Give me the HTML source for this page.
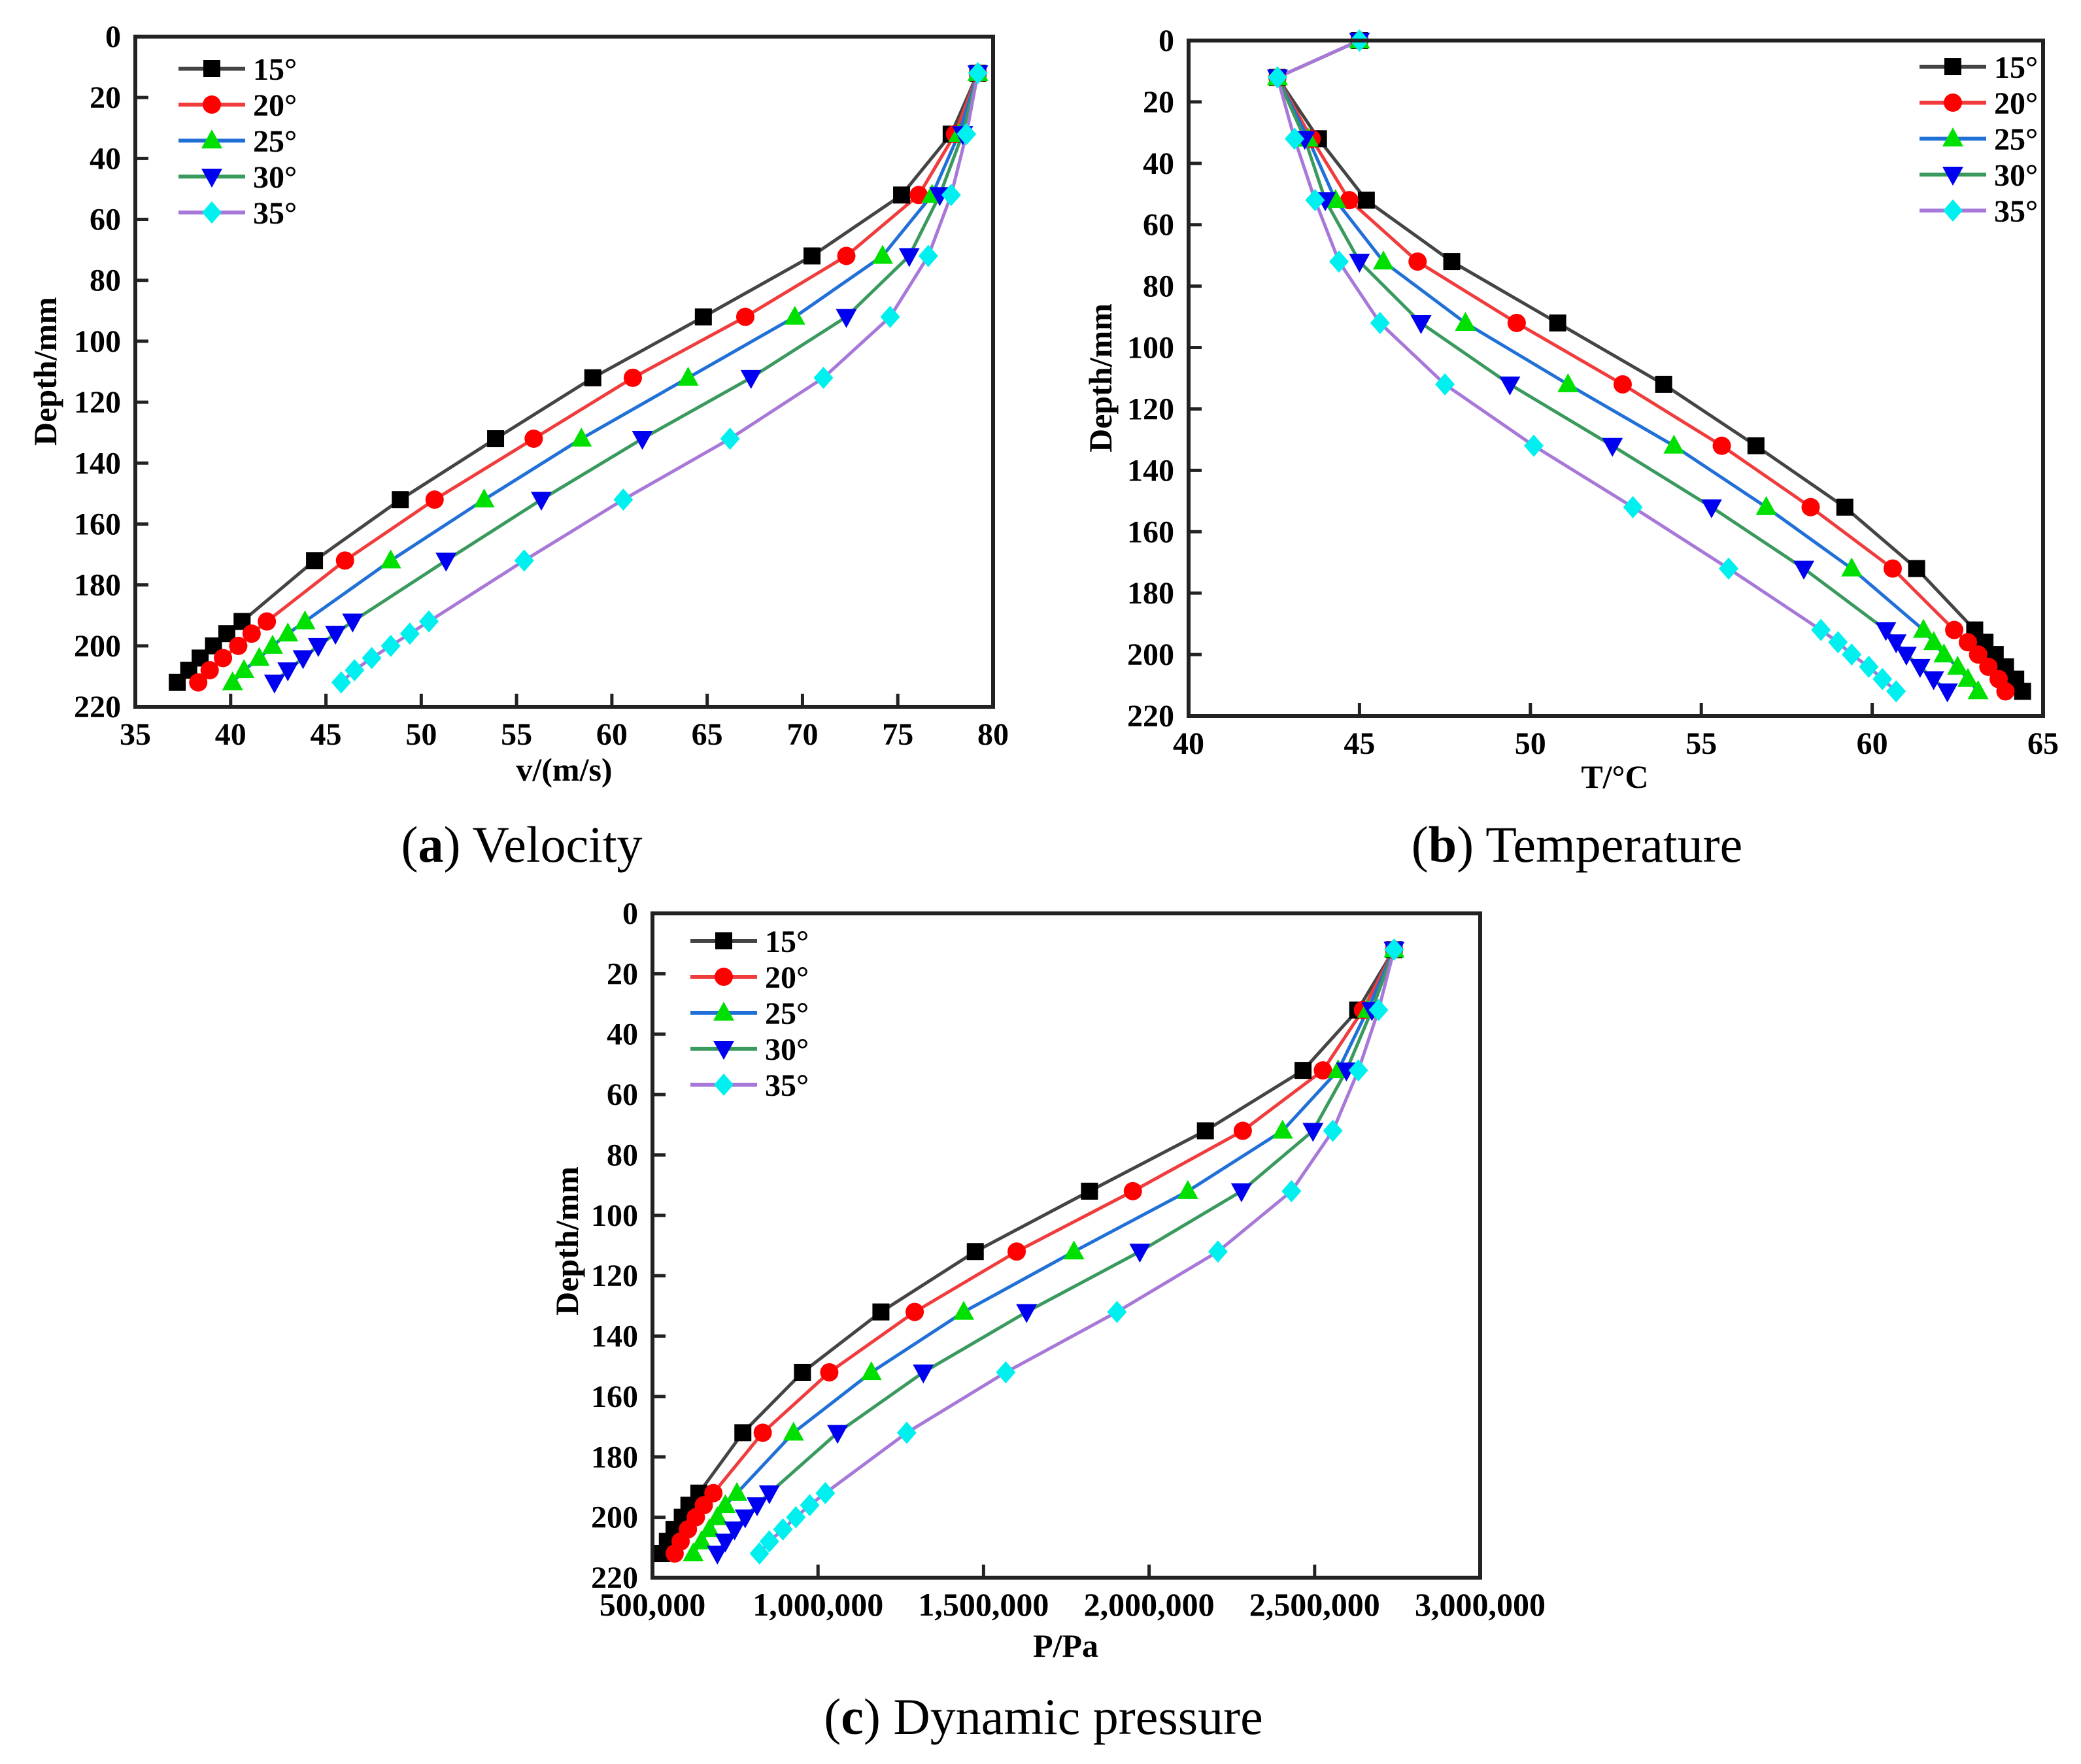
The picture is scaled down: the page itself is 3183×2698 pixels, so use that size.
<!DOCTYPE html>
<html><head><meta charset="utf-8"><style>
html,body{margin:0;padding:0;background:#fff;}
svg{display:block;font-family:"Liberation Serif",serif;}
</style></head>
<body>
<svg id="fig" width="3183" height="2698" viewBox="0 0 3183 2698" xmlns="http://www.w3.org/2000/svg"></svg>
<script>
const seriesNames = ["15°","20°","25°","30°","35°"];
const depthsA = [12,32,52,72,92,112,132,152,172,192,196,200,204,208,212];
const depthsB = [0,12,32,52,72,92,112,132,152,172,192,196,200,204,208,212];
const velocity15 = [79.2,77.8,75.2,70.5,64.8,59.0,53.9,48.9,44.4,40.6,39.8,39.1,38.4,37.8,37.2];
const velocity20 = [79.2,78.0,76.1,72.3,67.0,61.1,55.9,50.7,46.0,41.9,41.1,40.4,39.6,38.9,38.3];
const velocity25 = [79.2,78.2,76.8,74.2,69.6,64.0,58.4,53.3,48.4,43.9,43.0,42.2,41.5,40.7,40.1];
const velocity30 = [79.2,78.4,77.2,75.6,72.3,67.3,61.6,56.3,51.3,46.4,45.5,44.6,43.8,43.0,42.3];
const velocity35 = [79.2,78.6,77.8,76.6,74.6,71.1,66.2,60.6,55.4,50.4,49.4,48.4,47.4,46.5,45.8];
const temp15 = [45,42.6,43.8,45.2,47.7,50.8,53.9,56.6,59.2,61.3,63.0,63.3,63.6,63.9,64.2,64.4];
const temp20 = [45,42.6,43.6,44.7,46.7,49.6,52.7,55.6,58.2,60.6,62.4,62.8,63.1,63.4,63.7,63.9];
const temp25 = [45,42.6,43.5,44.3,45.7,48.1,51.1,54.2,56.9,59.4,61.5,61.8,62.1,62.5,62.8,63.1];
const temp30 = [45,42.6,43.4,44.0,45.0,46.8,49.4,52.4,55.3,58.0,60.4,60.7,61.0,61.4,61.8,62.2];
const temp35 = [45,42.6,43.1,43.7,44.4,45.6,47.5,50.1,53.0,55.8,58.5,59.0,59.4,59.9,60.3,60.7];
const press15 = [2740000,2630000,2465000,2170000,1820000,1475000,1190000,953000,773000,640000,610000,590000,565000,545000,528000];
const press20 = [2740000,2646000,2525000,2283000,1951000,1600000,1292000,1034000,833000,684000,655000,631000,607000,585000,567000];
const press25 = [2740000,2660000,2571000,2403000,2117000,1773000,1440000,1161000,926000,755000,720000,696000,672000,648000,623000];
const press30 = [2740000,2673000,2596000,2495000,2279000,1972000,1630000,1318000,1059000,853000,816000,780000,748000,720000,696000];
const press35 = [2740000,2693000,2632000,2555000,2430000,2208000,1903000,1567000,1268000,1022000,975000,933000,894000,853000,823000];
const depthTicks = [0,20,40,60,80,100,120,140,160,180,200,220];
const vTicks = [35,40,45,50,55,60,65,70,75,80];
const tTicks = [40,45,50,55,60,65];
const pTicks = [500000,1000000,1500000,2000000,2500000,3000000];

const NS="http://www.w3.org/2000/svg";
const svg=document.getElementById('fig');
const lineCols=["#444444","#f03c3c","#2070d8","#3a9a5e","#a878d8"];
const markCols=["#000000","#ff0000","#00e000","#0000f0","#00f0f0"];
const shapes=["square","circle","up","down","diamond"];
function el(tag,attrs,parent){const e=document.createElementNS(NS,tag);for(const k in attrs)e.setAttribute(k,attrs[k]);(parent||svg).appendChild(e);return e;}
function marker(g,shape,x,y,col){
  let m;const s=13;
  if(shape==="square") m=el('rect',{x:x-s,y:y-s,width:2*s,height:2*s,fill:col},g);
  else if(shape==="circle") m=el('circle',{cx:x,cy:y,r:14,fill:col},g);
  else if(shape==="up") m=el('polygon',{points:`${x},${y-17} ${x+16},${y+12} ${x-16},${y+12}`,fill:col},g);
  else if(shape==="down") m=el('polygon',{points:`${x},${y+17} ${x+16},${y-12} ${x-16},${y-12}`,fill:col},g);
  else m=el('polygon',{points:`${x},${y-17} ${x+15},${y} ${x},${y+17} ${x-15},${y}`,fill:col},g);
  return m;
}
function chart(cfg){
  const g=el('g',{});
  
  
  const {L,R,T,B,xmin,xmax}=cfg;
  const sx=v=>L+(v-xmin)/(xmax-xmin)*(R-L);
  const sy=d=>T+d/220*(B-T);
  cfg.series.forEach((vals,i)=>{
    const pts=vals.map((v,j)=>sx(v)+","+sy(cfg.depths[j])).join(" ");
    const pl=el('polyline',{points:pts,fill:"none",stroke:lineCols[i],"stroke-width":5,"stroke-linejoin":"round"},g);
    
    
  });
  cfg.series.forEach((vals,i)=>{
    vals.forEach((v,j)=>{
      const m=marker(g,shapes[i],sx(v),sy(cfg.depths[j]),markCols[i]);
      
      
    });
  });
  const fr=el('rect',{x:L,y:T,width:R-L,height:B-T,fill:"none",stroke:"#222","stroke-width":6},g);
  
  
  depthTicks.forEach(d=>{
    el('line',{x1:L,x2:L+20,y1:sy(d),y2:sy(d),stroke:"#222","stroke-width":5},g);
    const t=el('text',{x:L-22,y:sy(d)+16,"text-anchor":"end","font-size":48,"font-weight":"bold"},g);
    t.textContent=d;
    
    
  });
  cfg.xticks.forEach((v,k)=>{
    el('line',{x1:sx(v),x2:sx(v),y1:B,y2:B-20,stroke:"#222","stroke-width":5},g);
    const t=el('text',{x:sx(v),y:B+58,"text-anchor":"middle","font-size":cfg.xfs||48,"font-weight":"bold"},g);
    t.textContent=cfg.xlabels?cfg.xlabels[k]:v;
    
    
  });
  const xt=el('text',{x:cfg.xtx,y:cfg.xty,"text-anchor":"middle","font-size":50,"font-weight":"bold"},g);
  xt.textContent=cfg.xtitle;
  
  
  const yt=el('text',{x:0,y:0,"text-anchor":"middle","font-size":50,"font-weight":"bold",transform:`translate(${cfg.ytx},${cfg.yty}) rotate(-90)`},g);
  yt.textContent="Depth/mm";
  
  
  const lg=el('g',{},g);
  
  
  seriesNames.forEach((n,i)=>{
    const y=cfg.legY+i*55;
    const e=el('g',{},lg);
    
    
    el('line',{x1:cfg.legX,x2:cfg.legX+102,y1:y,y2:y,stroke:lineCols[i],"stroke-width":6},e);
    marker(e,shapes[i],cfg.legX+51,y,markCols[i]);
    const t=el('text',{x:cfg.legX+114,y:y+17,"font-size":48,"font-weight":"bold"},e);
    t.textContent=n;
  });
  const cap=el('text',{x:cfg.capX,y:cfg.capY,"text-anchor":"middle","font-size":78},g);
  cap.innerHTML='(<tspan font-weight="bold">'+cfg.capL+'</tspan>) '+cfg.cap;
  
  
}
chart({name:"velocity-chart",L:207,R:1519,T:56,B:1081,xmin:35,xmax:80,depths:depthsA,
  series:[velocity15,velocity20,velocity25,velocity30,velocity35],xticks:vTicks,
  xtitle:"v/(m/s)",xtx:863,xty:1194,ytx:86,yty:568,legX:273,legY:105,capX:798,capY:1318,capL:"a",cap:"Velocity"});
chart({name:"temperature-chart",L:1818,R:3125,T:62,B:1095,xmin:40,xmax:65,depths:depthsB,
  series:[temp15,temp20,temp25,temp30,temp35],xticks:tTicks,
  xtitle:"T/°C",xtx:2470,xty:1205,ytx:1700,yty:578,legX:2936,legY:102,capX:2412,capY:1318,capL:"b",cap:"Temperature"});
chart({name:"pressure-chart",L:998,R:2264,T:1397,B:2413,xmin:500000,xmax:3000000,depths:depthsA,
  series:[press15,press20,press25,press30,press35],xticks:pTicks,xfs:50,
  xlabels:["500,000","1,000,000","1,500,000","2,000,000","2,500,000","3,000,000"],
  xtitle:"P/Pa",xtx:1630,xty:2534,ytx:884,yty:1898,legX:1056,legY:1439,capX:1596,capY:2652,capL:"c",cap:"Dynamic pressure"});
</script>
</body></html>
